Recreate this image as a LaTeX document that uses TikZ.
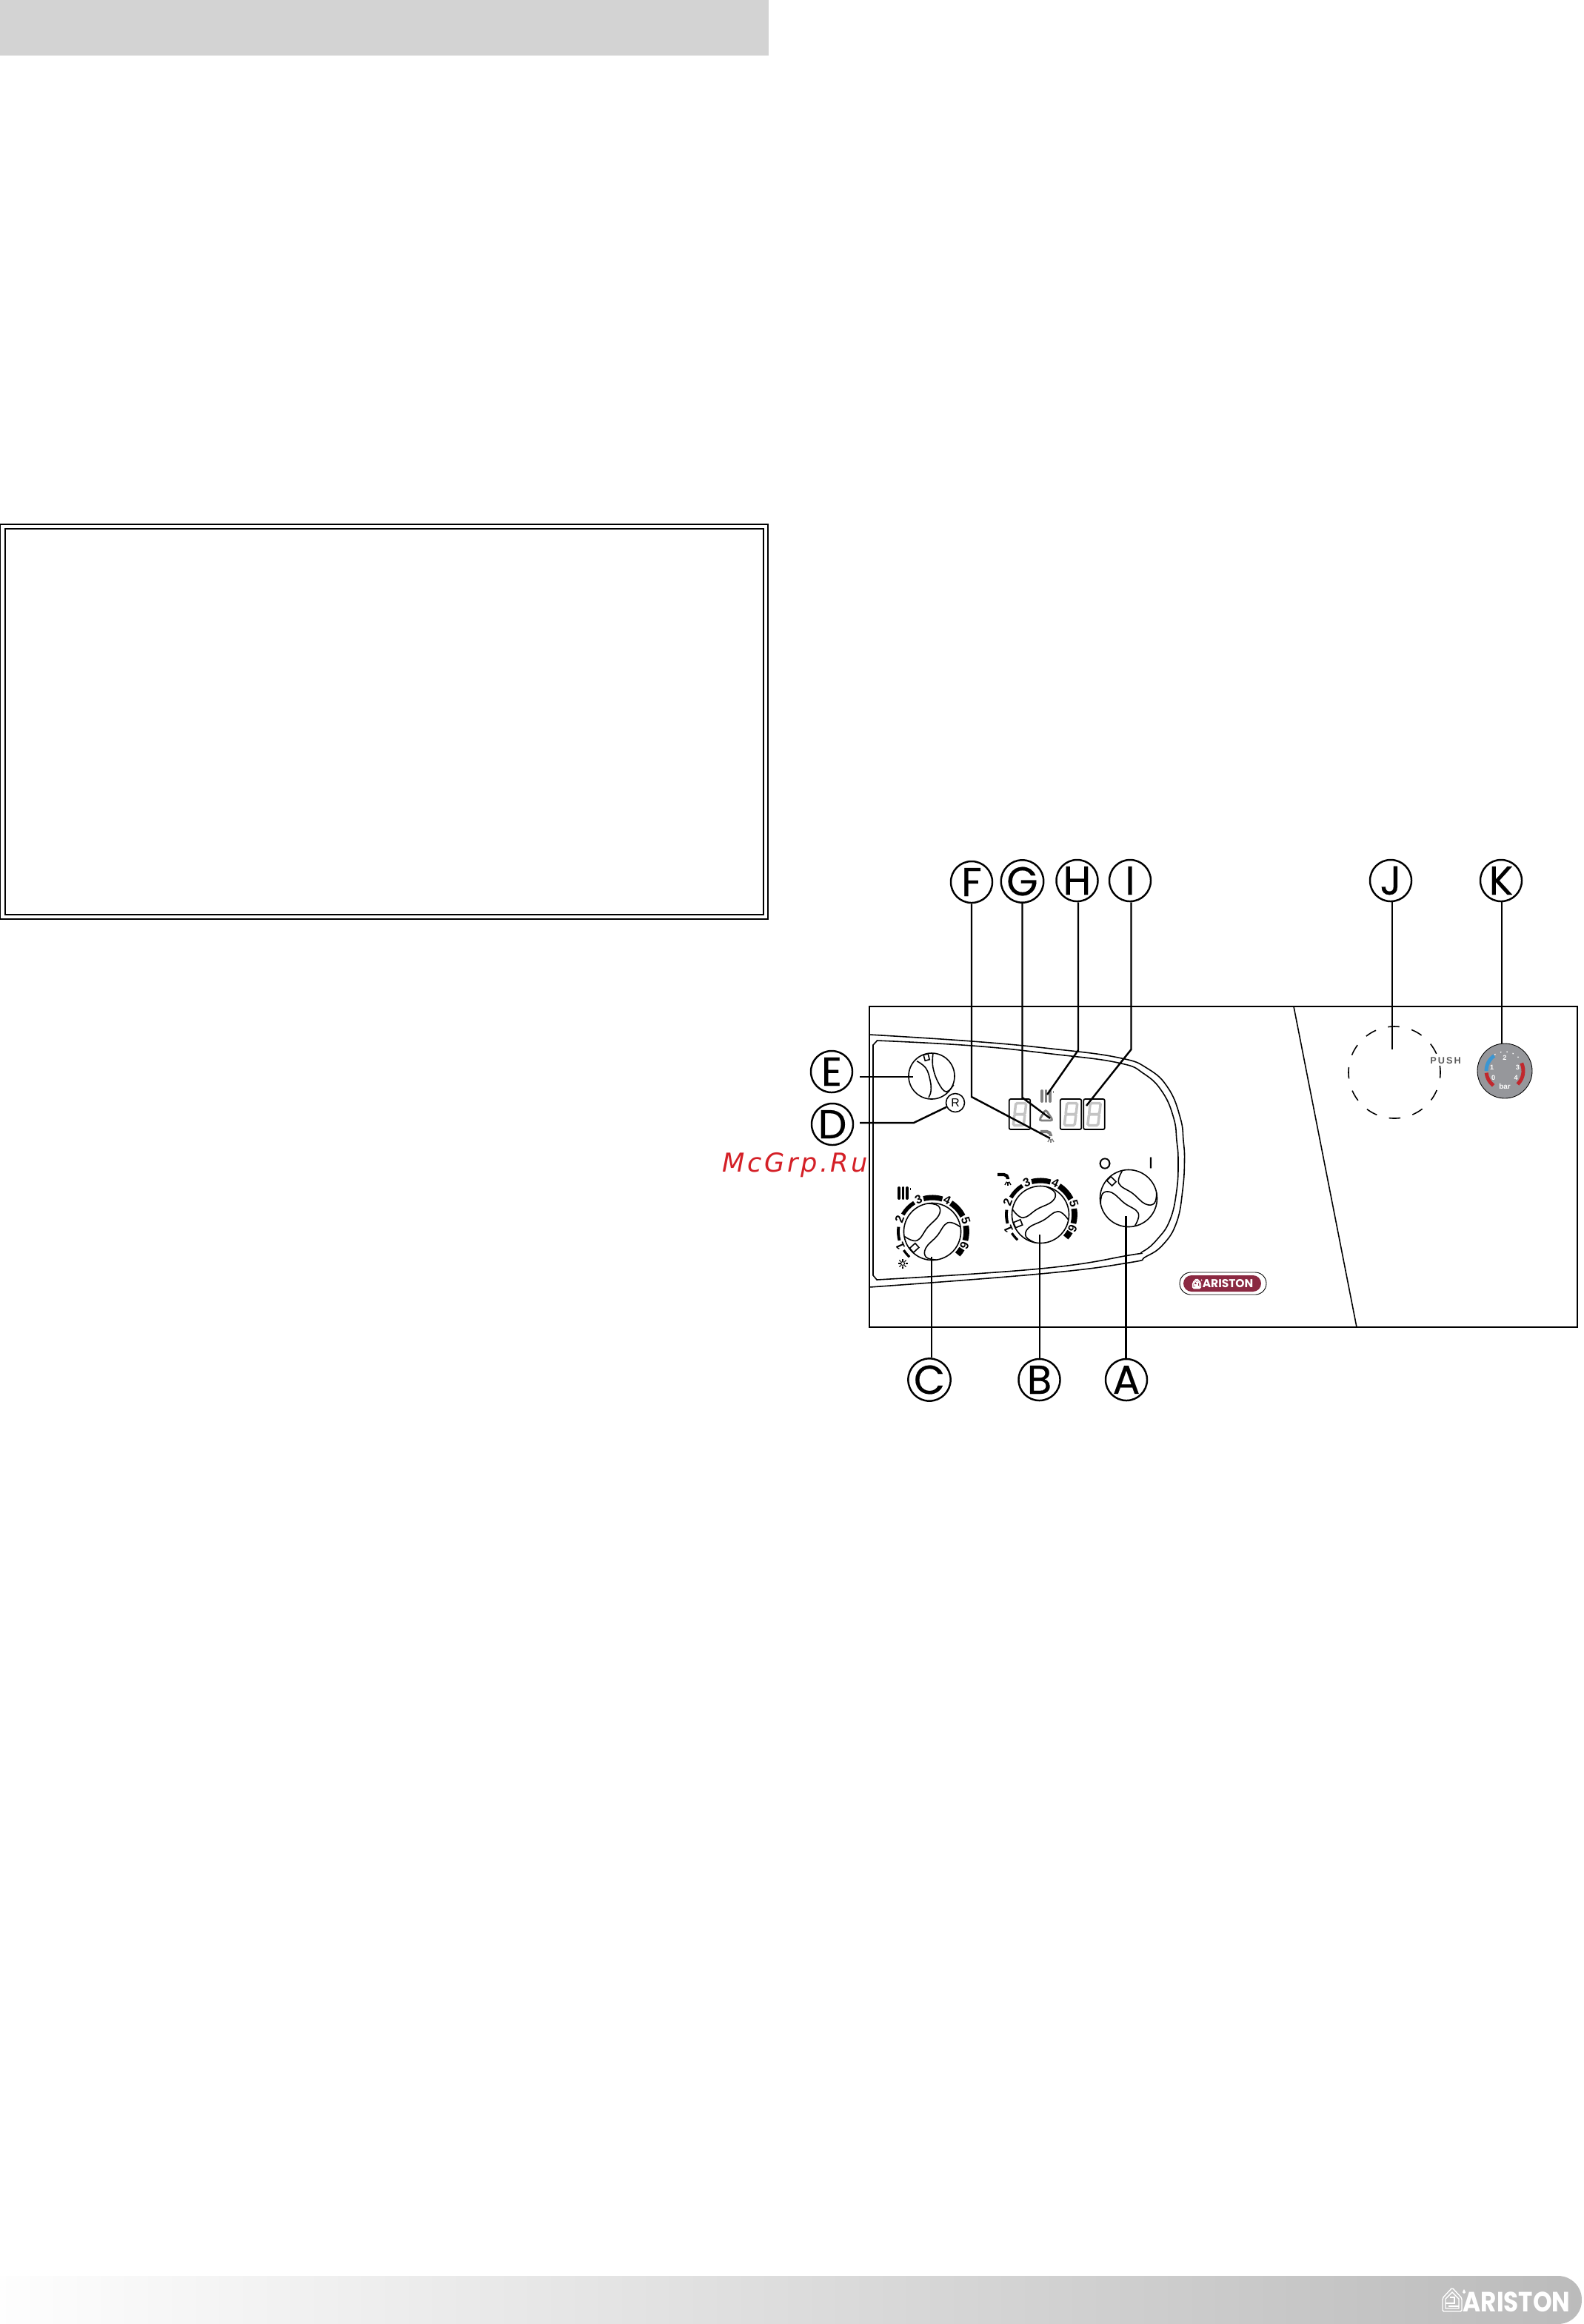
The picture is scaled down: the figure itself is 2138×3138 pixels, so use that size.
\documentclass[tikz,border=0pt]{standalone}
\usepackage{fontspec}
\setmainfont{Liberation Sans}
\newfontfamily\callfont[FakeBold=0.4]{Poppins}
\newfontfamily\markfont[LetterSpace=10]{DejaVu Sans}
\newfontfamily\brandfont{Poppins}
\usetikzlibrary{calc}

\definecolor{bandgrey}{HTML}{D3D3D3}
\definecolor{footgrey}{HTML}{BBBBBB}
\definecolor{brandred}{HTML}{8B2942}
\definecolor{markred}{HTML}{D42027}
\definecolor{gaugegrey}{HTML}{96979B}
\definecolor{segmentgrey}{HTML}{C4C4C4}
\definecolor{gaugered}{HTML}{C1272D}
\definecolor{gaugeblue}{HTML}{3B96D2}

\tikzset{
    panelline/.style = {line width = 0.45pt},
    frameline/.style = {line width = 0.35pt},
    leader/.style = {line width = 0.7pt},
    callout/.style = {circle, draw, line width = 0.7pt, fill = white, inner sep = 0pt,
        minimum size = 1.6cm * 0.35, font = \callfont\fontsize{15.5}{17}\selectfont},
    display/.style = {draw, line width = 0.5pt, rounded corners = 0.6pt, inner sep = 0pt,
        minimum width = 0.285cm, minimum height = 0.41cm},
    knob/.pic = {
        \begin{scope}[x = 0.385cm, y = 0.385cm]
            \draw [panelline, fill = white] (0, 0) circle (1);
            \draw [panelline] plot [smooth, tension = 0.7] coordinates
                {(-0.97, 0.17) (-0.61, -0.11) (-0.1, 0.2) (0.41, 0.46) (0.51, 0.77) (0.2, 0.98)};
            \draw [panelline] plot [smooth, tension = 0.7] coordinates
                {(0.97, -0.17) (0.61, 0.11) (0.1, -0.2) (-0.41, -0.46) (-0.51, -0.77) (-0.2, -0.98)};
            \draw [panelline, fill = white, rotate = 202] (0.72, -0.1) rectangle (0.98, 0.1);
        \end{scope}
    },
    dial/.pic = {
        \begin{scope}[x = 1cm, y = 1cm]
            % Thick pieces of the scale, thinner towards the low end.
            \foreach \from/\to/\wide in {228/213/0.9pt, 195/172/1.1pt, 150/122/1.5pt, 105/73/2pt, 57/27/2.2pt, 10/-15/2.2pt, -30/-42/2.4pt}
                \draw [line width = \wide] (\from:0.46) arc [start angle = \from, end angle = \to, radius = 0.46];
            \foreach \ang/\num in {204/1, 159/2, 113/3, 65/4, 18/5, -24/6}
                \node [rotate = \ang-90, inner sep = 0pt, font = \bfseries\fontsize{4.6}{5}\selectfont] at (\ang:0.475) {\num};
        \end{scope}
    },
    sevenseg/.pic = {
        \begin{scope}[x = 0.01cm, y = 0.01cm, xslant = 0.12]
            \draw [line width = 1pt, segmentgrey, rounded corners = 0.5pt] (-7, 0) rectangle (7, 15);
            \draw [line width = 1pt, segmentgrey, rounded corners = 0.5pt] (-7, -15) rectangle (7, 0);
        \end{scope}
    },
    heater/.pic = {
        \begin{scope}[x = 0.01cm, y = 0.01cm]
            \foreach \bar in {-7, -1.5, 4}
                \draw [line width = 1.1pt, line cap = round] (\bar, -7) -- (\bar, 7);
            \draw [line width = 0.5pt] (8.5, 7) -- (8.5, 4);
        \end{scope}
    },
    tap/.pic = {
        \begin{scope}[x = 0.01cm, y = 0.01cm]
            \draw [line width = 1.2pt, rounded corners = 1.5pt] (-9, 6) -- (5, 6) -- (5, 0);
            \foreach \ray in {-30, 0, 30}
                \draw [line width = 0.4pt] ([shift = {(-90+\ray:3)}] 5, -1) -- ([shift = {(-90+\ray:8)}] 5, -1);
        \end{scope}
    },
    sunmark/.pic = {
        \begin{scope}[x = 0.01cm, y = 0.01cm]
            \draw [line width = 0.3pt] (0, 0) circle (2.5);
            \foreach \ray in {0, 45, ..., 315}
                \draw [line width = 0.3pt] (\ray:3.5) -- (\ray:6.5);
        \end{scope}
    },
    house/.pic = {
        \begin{scope}[x = 0.01cm, y = 0.01cm]
            \draw [white, line width = 0.4pt, rounded corners = 0.5pt] (-13, -16) -- (-13, 2) -- (0, 16) -- (13, 2) -- (13, -16) -- cycle;
            \draw [white, line width = 0.4pt] (-9, -12) -- (-9, 1) -- (0, 10) -- (9, 1) -- (9, -12) -- cycle;
            \draw [white, line width = 0.6pt] (-9, -5) -- (3, -5) -- (3, 3) -- (-3, 3);
            \draw [white, line width = 0.6pt] (-5, -9) -- (9, -9);
            \fill [white] (16, 14) .. controls (13, 10) and (14, 8) .. (16, 8) .. controls (18, 8) and (19, 10) .. (16, 14);
        \end{scope}
    },
    gauge/.pic = {
        \begin{scope}[x = 0.01cm, y = 0.01cm]
            \draw [line width = 0.25pt, fill = gaugegrey] (0, 0) circle (37);
            \draw [gaugeblue, line width = 1.4pt] (180:25) arc [start angle = 180, end angle = 125, radius = 25];
            \draw [gaugered, line width = 1.4pt] (186:25) arc [start angle = 186, end angle = 232, radius = 25];
            \draw [gaugered, line width = 1.4pt] (25:25) arc [start angle = 25, end angle = -46, radius = 25];
            \draw [white, line width = 0.4pt, dotted] (122:26) arc [start angle = 122, end angle = 32, radius = 26];
            \foreach \ang/\num in {212/0, 165/1, 90/2, 15/3, -32/4}
                \node [white, inner sep = 0pt, font = \bfseries\fontsize{2.6}{3}\selectfont] at (\ang:18) {\num};
            \node [white, inner sep = 0pt, font = \bfseries\fontsize{2.8}{3}\selectfont] at (0, -21) {bar};
        \end{scope}
    },
}

\begin{document}
\begin{tikzpicture}[x = 0.01cm, y = -0.01cm]

    % Fix the page to the size of the sheet.
    \useasboundingbox (0, 0) rectangle (2138, 3138);

    % Header band and the double frame.
    \fill [bandgrey] (0, 0) rectangle (1038, 75);
    \draw [frameline] (0.5, 708) rectangle (1037, 1241);
    \draw [frameline] (7, 714) rectangle (1031, 1235);

    % Footer band.
    \shade [left color = white, right color = footgrey, rounded corners = 0.32cm]
        (-40, 3073) rectangle (2136, 3138);
    \pic at (1961, 3105) {house};
    \node (footerbrand) at (2048, 3108) [white, inner sep = 0pt, yscale = 1.15, font = \brandfont\bfseries\fontsize{9.3}{10}\selectfont] {ARISTON};

    % Text lying over the page.
    \node (watermark) at (1074, 1573) [markred, inner sep = 0pt, font = \markfont\itshape\fontsize{10}{12}\selectfont] {McGrp.Ru};

    % The panel.
    \draw [panelline] (1174, 1359) rectangle (2130, 1792);
    \draw [panelline] (1747, 1359) to (1832, 1792);

    % Outline of the control area.
    \draw [panelline] plot [smooth, tension = 0.75] coordinates
        {(1174, 1397) (1313, 1406) (1420, 1416) (1510, 1428) (1550, 1443) (1578, 1470) (1594, 1510) (1598, 1540)
         (1599.5, 1567) (1597, 1607) (1589, 1650) (1571, 1680) (1547, 1697) (1524, 1705) (1405, 1720) (1174, 1738)};
    \draw [panelline] (1179, 1722) -- (1179, 1411) -- plot [smooth, tension = 0.75] coordinates
        {(1184.5, 1405) (1313, 1412) (1420, 1423) (1510, 1435) (1545, 1450) (1570, 1475) (1585, 1510) (1589, 1540)
         (1591, 1567) (1589, 1607) (1580, 1647) (1563, 1673) (1543, 1690) (1524, 1695) (1405, 1713) (1184, 1728)} -- cycle;

    % Knobs with their scales.
    \pic at (1259, 1663) {dial};
    \pic at (1405, 1640) {dial};
    \pic [rotate = 20] at (1259, 1663) {knob};
    \pic at (1405, 1640) {knob};
    \pic [rotate = -67] at (1524, 1618) {knob};

    % The small reset knob is narrower in its lobes.
    \begin{scope}[shift = {(1258, 1453)}, x = 0.31cm, y = 0.31cm]
        \draw [panelline, fill = white] (0, 0) circle (1);
        \draw [panelline] plot [smooth, tension = 0.7] coordinates
            {(0.06, 0.97) (0.06, 0.38) (0.3, -0.3) (0.64, -0.68) (0.96, -0.38)};
        \draw [panelline] plot [smooth, tension = 0.7] coordinates
            {(-0.64, 0.65) (-0.25, 0.35) (-0.06, -0.2) (-0.03, -0.65) (-0.13, -0.93)};
        \draw [panelline, fill = white, rotate = 105] (0.72, -0.1) rectangle (0.98, 0.1);
    \end{scope}
    \node (reset) at (1290, 1489) [circle, draw, panelline, fill = white, inner sep = 0pt, minimum size = 0.25cm, font = \fontsize{4.5}{5}\selectfont] {R};

    % Symbols beside the knobs.
    \pic at (1221, 1611) {heater};
    \pic at (1356, 1592) {tap};
    \pic at (1219, 1706) {sunmark};
    \node (offmark) at (1492, 1571) [inner sep = 0pt, font = \callfont\fontsize{6}{6}\selectfont] {O};
    \node (onmark) at (1554, 1570) [inner sep = 0pt, font = \callfont\fontsize{6}{6}\selectfont] {I};

    % Displays.
    \node (dispa) at (1377, 1504.5) [display] {};
    \node (dispb) at (1446, 1504.5) [display] {};
    \node (dispc) at (1477.5, 1504.5) [display] {};
    \pic at (1377, 1504.5) {sevenseg};
    \pic at (1446, 1504.5) {sevenseg};
    \pic at (1477.5, 1504.5) {sevenseg};

    % Lamps between the displays.
    \pic [gray] at (1414, 1480) {heater};
    \draw [gray, line width = 0.8pt, rounded corners = 1pt] (1412, 1498) -- (1422, 1513) -- (1403, 1513) -- cycle;
    \pic [gray] at (1414, 1534) {tap};

    % Pressure relief and gauge.
    \draw [panelline, dash pattern = on 4.4pt off 4.8pt, dash phase = 2.2pt] (1883, 1448) circle (62);
    \node (push) at (1952, 1432) [gray!70!black, inner sep = 0pt, font = \bfseries\fontsize{3.6}{4}\selectfont] {P\,U\,S\,H};
    \pic at (2032, 1446) {gauge};

    % Badge on the panel.
    \draw [line width = 0.25pt, fill = white, rounded corners = 0.15cm] (1593, 1718) rectangle (1710, 1748);
    \fill [brandred, rounded corners = 0.11cm] (1598, 1722) rectangle (1703, 1744);
    \pic [scale = 0.42] at (1616, 1733) {house};
    \node (badge) at (1658, 1733) [white, inner sep = 0pt, font = \brandfont\bfseries\fontsize{4.4}{5}\selectfont] {ARISTON};

    % Positions of the callouts.
    \node (lblF) at (1312, 1191) [callout] {F};
    \node (lblG) at (1380.5, 1190) [callout] {G};
    \node (lblH) at (1454.5, 1189) [callout] {H};
    \node (lblI) at (1526, 1189) [callout] {I};
    \node (lblJ) at (1878, 1189) [callout] {J};
    \node (lblK) at (2027, 1189) [callout] {K};
    \node (lblE) at (1123, 1447) [callout] {E};
    \node (lblD) at (1124, 1518) [callout] {D};
    \node (lblC) at (1255, 1863) [callout] {C};
    \node (lblB) at (1403.5, 1863) [callout] {B};
    \node (lblA) at (1521, 1863) [callout] {A};

    % Bends and free ends of the leaders.
    \coordinate (Fbend) at (1312, 1481);
    \coordinate (Fend) at (1418, 1537);
    \coordinate (Gbend) at (1380.5, 1482);
    \coordinate (Gend) at (1418, 1510);
    \coordinate (Hbend) at (1456, 1418);
    \coordinate (Hend) at (1414, 1478);
    \coordinate (Ibend) at (1527.5, 1417);
    \coordinate (Iend) at (1467, 1493);
    \coordinate (Estart) at (1161, 1454);
    \coordinate (Eend) at (1233, 1454);
    \coordinate (Dstart) at (1161, 1516);
    \coordinate (Dbend) at (1234, 1516);
    \coordinate (Jend) at (1880, 1417);
    \coordinate (Kend) at (2028, 1409);
    \coordinate (Cend) at (1258, 1697);
    \coordinate (Bend) at (1404, 1667);
    \coordinate (Aend) at (1520.5, 1642);

    % Draw the leaders.
    \draw [leader] (lblF.south) to (Fbend) to (Fend);
    \draw [leader] (lblG.south) to (Gbend) to (Gend);
    \draw [leader] (lblH.south -| Hbend) to (Hbend) to (Hend);
    \draw [leader] (lblI.south -| Ibend) to (Ibend) to (Iend);
    \draw [leader] (Estart) to (Eend);
    \draw [leader] (Dstart) to (Dbend) to (reset);
    \draw [leader] (lblJ.south -| Jend) to (Jend);
    \draw [leader] (lblK.south -| Kend) to (Kend);
    \draw [leader] (Cend) to (lblC.north -| Cend);
    \draw [leader] (Bend) to (lblB.north -| Bend);
    \draw [leader, line width = 0.9pt] (Aend) to (lblA.north -| Aend);
\end{tikzpicture}
\end{document}
